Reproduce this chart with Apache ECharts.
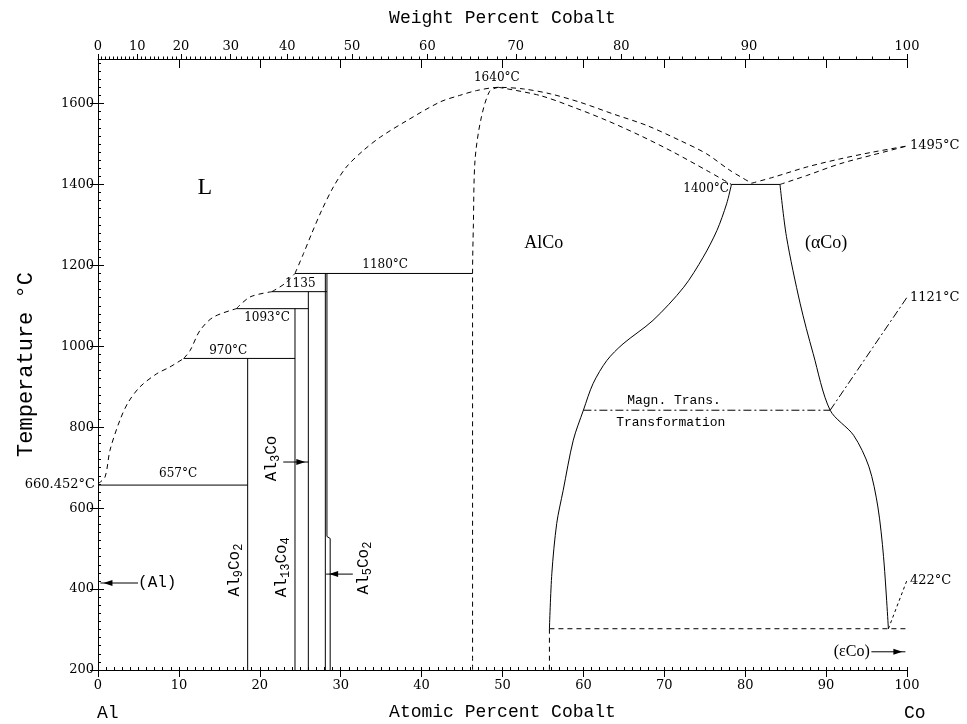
<!DOCTYPE html>
<html><head><meta charset="utf-8">
<script src="https://cdn.jsdelivr.net/npm/echarts@6/dist/echarts.min.js"></script>
<style>html,body{margin:0;padding:0;background:#fff}#c{width:967px;height:724px}</style>
</head><body><div id="c"></div>
<script>
// ---- axis data ----
const atomicTicks = [0,10,20,30,40,50,60,70,80,90,100];
const weightTicks = [0,10,20,30,40,50,60,70,80,90,100];
const tempTicks = [200,400,600,800,1000,1200,1400,1600];
const rightTempLabels = [422,1121,1495];
const M_AL = 26.98, M_CO = 58.93;
function wtToAt(w){ const a = w/M_CO, b = (100-w)/M_AL; return 100*a/(a+b); }
const weightTickPos = weightTicks.map(wtToAt);
const weightMinorPos = [];
for (let w = 0; w <= 100; w++) weightMinorPos.push(wtToAt(w));

// ---- phase boundaries [at.% Co, °C] ----
const liqA = [[0,660.5],[0.87,677],[1.48,743],[2.7,817],[3.75,862],[5.2,900],[7.25,932],[8.9,949],[10.6,970]];
const liqB = [[10.6,970],[11.4,990],[12.6,1039],[14.25,1072],[17.1,1093]];
const liqC = [[17.1,1093],[18.8,1122],[21.5,1135]];
const liqD = [[21.5,1135],[23.1,1155],[24.35,1180]];
const liqE = [[24.35,1180],[25.4,1229],[26.4,1278],[27.65,1336],[29.1,1394],[30.7,1443],[32.8,1484],[34.9,1517],[38.2,1558],[42.3,1604],[44.7,1620],[46.8,1632],[49.5,1640],[52.6,1636],[55.9,1624],[59.6,1603],[63.7,1574],[67.8,1546],[71.9,1509],[75.2,1476],[78.1,1435],[80.8,1403]];
const liqF = [[80.8,1403],[83.5,1418],[87.6,1443],[91.7,1463],[95.8,1480],[100,1495]];
const alcoSolidus = [[49.5,1640],[54.6,1620],[58.75,1591],[62.9,1558],[67,1521],[71.1,1480],[75.2,1435],[78.3,1400]];
const alcoLeft = [[49.5,1640],[48.4,1630],[47.3,1558],[46.6,1459],[46.4,1300],[46.3,1180],[46.3,200]];
const coSolidus = [[84.3,1400],[87.6,1422],[91.7,1451],[95.8,1473],[100,1495]];
const alcoRight = [[78.3,1400],[77.7,1352],[76.5,1286],[74.8,1220],[72.4,1146],[68.6,1064],[64.9,1006],[62.9,965],[61.2,908],[60,842],[58.75,768],[57.5,644],[56.7,562],[56.1,439],[55.8,302]];
const coBoundary = [[84.3,1400],[85.1,1271],[86.8,1105],[88.4,982],[90.5,842],[93.4,780],[95.3,702],[96.4,603],[97.1,480],[97.7,302]];
const plateau1400 = [[78.3,1400],[84.3,1400]];
const eutectoid = [[55.8,302],[100,302]];
const eutectoidDrop = [[55.8,302],[55.8,200]];
const magnTrans = [[60,842],[90.5,842]];
const curieLine = [[90.5,842],[100,1121]];
const hcpLine = [[97.7,302],[100,422]];
const h657 = [[0,657],[18.5,657]];
const h970 = [[10.6,970],[24.35,970]];
const h1093 = [[17.1,1093],[26.0,1093]];
const h1135 = [[21.5,1135],[28.3,1135]];
const h1180 = [[24.35,1180],[46.3,1180]];
const vAl9Co2 = [[18.5,200],[18.5,970]];
const vAl13Co4 = [[24.35,200],[24.35,1093]];
const vAl3Co = [[26.0,200],[26.0,1135]];
const vAl5Co2a = [[28.1,200],[28.1,1180]];
const vAl5Co2b = [[28.3,1180],[28.3,530],[28.7,525],[28.7,200]];

// arrows: [fromX, fromT, toX, toT]
const arrows = [[4.95,415,0.3,415],[22.9,714,26.0,714],[31.5,437,28.2,437],[95.6,245,99.8,245]];

const MONO = 'Liberation Mono';
const SERIF = 'DejaVu Serif';
const TSERIF = 'Liberation Serif';

const lineDefs = [
  [liqA,'dash',1],[liqB,'dash',1],[liqC,'dash',1],[liqD,'dash',1],[liqE,'dash',1],[liqF,'dash',1],
  [alcoSolidus,'dash',1],[alcoLeft,'dash',1],[coSolidus,'dash',1],
  [alcoRight,'solid',1],[coBoundary,'solid',1],[plateau1400,'solid',0],
  [eutectoid,'dash',0],[eutectoidDrop,'dash',0],[magnTrans,'dashdot',0],[curieLine,'dashdot',0],[hcpLine,'dot',0],
  [h657,'solid',0],[h970,'solid',0],[h1093,'solid',0],[h1135,'solid',0],[h1180,'solid',0],
  [vAl9Co2,'solid',0],[vAl13Co4,'solid',0],[vAl3Co,'solid',0],[vAl5Co2a,'solid',0],[vAl5Co2b,'solid',0]
];
const dashTypes = {solid:'solid', dash:[5,4], dashdot:[8,3,2,3], dot:[3,3]};

const rich = {
  m:{fontFamily:MONO, fontSize:16, color:'#000'},
  s:{fontFamily:MONO, fontSize:12, color:'#000', padding:[8,0,0,0]}
};
const annotations = [
  {t:'L', x:13.2, y:1393, f:TSERIF, fs:24},
  {t:'AlCo', x:55.1, y:1254, f:TSERIF, fs:18},
  {t:'(αCo)', x:90.0, y:1254, f:TSERIF, fs:18},
  {t:'1640°C', x:49.3, y:1664, f:SERIF, fs:12},
  {t:'1400°C', x:78.0, y:1390, f:SERIF, fs:12, al:'right'},
  {t:'1180°C', x:35.5, y:1200, f:SERIF, fs:12},
  {t:'1135', x:25.0, y:1155, f:SERIF, fs:12},
  {t:'1093°C', x:20.9, y:1069, f:SERIF, fs:12},
  {t:'970°C', x:16.1, y:988, f:SERIF, fs:12},
  {t:'657°C', x:9.9, y:684, f:SERIF, fs:12},
  {t:'Magn. Trans.', x:71.2, y:867, f:MONO, fs:13},
  {t:'Transformation', x:70.8, y:812, f:MONO, fs:13},
  {t:'(εCo)', x:95.4, y:245, f:TSERIF, fs:16, al:'right'},
  {t:'(Al)', x:4.95, y:415, f:MONO, fs:16, al:'left'},
  {t:'660.452°C', x:0, y:658, f:SERIF, fs:13, al:'right', dx:-3},
  {t:'{m|Al}{s|9}{m|Co}{s|2}', x:16.9, y:447, rot:1},
  {t:'{m|Al}{s|13}{m|Co}{s|4}', x:22.7, y:454, rot:1},
  {t:'{m|Al}{s|3}{m|Co}', x:21.5, y:723, rot:1},
  {t:'{m|Al}{s|5}{m|Co}{s|2}', x:32.8, y:452, rot:1}
];

const series = lineDefs.map(([d, st, sm]) => ({
  type:'line', data:d, xAxisIndex:0, yAxisIndex:0, symbol:'none', showSymbol:false,
  smooth: sm ? 0.3 : false, silent:true, animation:false,
  lineStyle:{color:'#000', width:1, type:dashTypes[st]}
}));

series.push({
  type:'custom', coordinateSystem:'cartesian2d', xAxisIndex:0, yAxisIndex:0, clip:false, silent:true, animation:false,
  data: arrows.map(a => [a[0], a[1], a[2], a[3]]),
  encode:{x:[0,2], y:[1,3]},
  renderItem:(params, api) => {
    const p0 = api.coord([api.value(0), api.value(1)]);
    const p1 = api.coord([api.value(2), api.value(3)]);
    const dir = Math.sign(p1[0]-p0[0]);
    const tipX = p1[0] - dir*3, L = 9, W = 3;
    return {type:'group', children:[
      {type:'line', shape:{x1:p0[0], y1:p0[1], x2:p1[0], y2:p1[1]}, style:{stroke:'#000', lineWidth:1}},
      {type:'polygon', shape:{points:[[tipX,p1[1]],[tipX-dir*L,p1[1]-W],[tipX-dir*L,p1[1]+W]]}, style:{fill:'#000'}}
    ]};
  }
});

series.push({
  type:'custom', coordinateSystem:'cartesian2d', xAxisIndex:0, yAxisIndex:0, clip:false, silent:true, animation:false,
  data: annotations.map((a,i) => [a.x, a.y, i]),
  encode:{x:0, y:1},
  renderItem:(params, api) => {
    const a = annotations[api.value(2)];
    const p = api.coord([api.value(0), api.value(1)]);
    const style = {text:a.t, fill:'#000', align:a.al||'center', verticalAlign:'middle'};
    if (a.rot) { style.rich = rich; }
    else { style.fontFamily = a.f; style.fontSize = a.fs; }
    return {type:'text', x:p[0]+(a.dx||0), y:p[1], rotation: a.rot ? Math.PI/2 : 0, style};
  }
});

const black = {color:'#000', width:1};
function labelFor(v){ let b=0; for(let i=1;i<weightTickPos.length;i++){ if(Math.abs(weightTickPos[i]-v)<Math.abs(weightTickPos[b]-v)) b=i; } return String(weightTicks[b]); }

const option = {
  animation:false,
  backgroundColor:'#fff',
  grid:{left:98, right:60, top:59, bottom:54, containLabel:false, outerBoundsMode:'none'},
  xAxis:[
    {type:'value', position:'bottom', min:0, max:100, interval:10,
     axisLine:{lineStyle:black}, axisTick:{length:7, lineStyle:black},
     axisLabel:{color:'#000', fontFamily:SERIF, fontSize:13, margin:9, formatter:v=>atomicTicks.includes(v)?String(v):''},
     splitLine:{show:false},
     name:'Atomic Percent Cobalt', nameLocation:'middle', nameGap:33,
     nameTextStyle:{color:'#000', fontFamily:MONO, fontSize:18}},
    {type:'value', position:'bottom', min:0, max:100, interval:1,
     axisLine:{show:false}, axisTick:{inside:true, length:3, lineStyle:black}, axisLabel:{show:false}, splitLine:{show:false}},
    {type:'value', position:'top', min:0, max:100, interval:10,
     axisLine:{lineStyle:black}, axisTick:{inside:true, length:9, lineStyle:black}, axisLabel:{show:false}, splitLine:{show:false},
     name:'Weight Percent Cobalt', nameLocation:'middle', nameGap:32,
     nameTextStyle:{color:'#000', fontFamily:MONO, fontSize:18}},
    {type:'value', position:'top', min:0, max:100,
     axisLine:{show:false}, axisTick:{customValues:weightTickPos, length:5, lineStyle:black},
     axisLabel:{customValues:weightTickPos, formatter:labelFor, color:'#000', fontFamily:SERIF, fontSize:13, margin:6},
     splitLine:{show:false}},
    {type:'value', position:'top', min:0, max:100,
     axisLine:{show:false}, axisTick:{customValues:weightMinorPos, length:2.5, lineStyle:black},
     axisLabel:{show:false}, splitLine:{show:false}}
  ],
  yAxis:[
    {type:'value', position:'left', min:200, max:1710, interval:200,
     axisLine:{show:true, lineStyle:black}, axisTick:{show:true, length:8, lineStyle:black},
     axisLabel:{color:'#000', fontFamily:SERIF, fontSize:13, margin:4, showMaxLabel:false,
                formatter:v=>tempTicks.includes(v)?String(v):''},
     splitLine:{show:false},
     name:'Temperature °C', nameLocation:'middle', nameGap:61, nameRotate:90,
     nameTextStyle:{color:'#000', fontFamily:MONO, fontSize:22}},
    {type:'value', position:'left', min:200, max:1710, interval:20,
     axisLine:{show:false}, axisTick:{show:true, inside:true, length:3, lineStyle:black}, axisLabel:{show:false}, splitLine:{show:false}},
    {type:'value', position:'right', min:200, max:1710, interval:200,
     axisLine:{show:true, lineStyle:black}, axisTick:{show:true, length:6, lineStyle:black}, axisLabel:{show:false}, splitLine:{show:false}},
    {type:'value', position:'right', min:200, max:1710, interval:20,
     axisLine:{show:false}, axisTick:{show:true, length:3, lineStyle:black}, axisLabel:{show:false}, splitLine:{show:false}},
    {type:'value', position:'right', min:200, max:1710,
     axisLine:{show:false}, axisTick:{show:false},
     axisLabel:{customValues:rightTempLabels, formatter:v=>v+'°C', color:'#000', fontFamily:SERIF, fontSize:13, margin:3},
     splitLine:{show:false}}
  ],
  graphic:[
    {type:'text', left:97, top:704, style:{text:'Al', fontFamily:MONO, fontSize:18, fill:'#000'}},
    {type:'text', left:904, top:704, style:{text:'Co', fontFamily:MONO, fontSize:18, fill:'#000'}}
  ],
  series
};
const chart = echarts.init(document.getElementById('c'), null, {renderer:'canvas'});
chart.setOption(option);
</script>
</body></html>
